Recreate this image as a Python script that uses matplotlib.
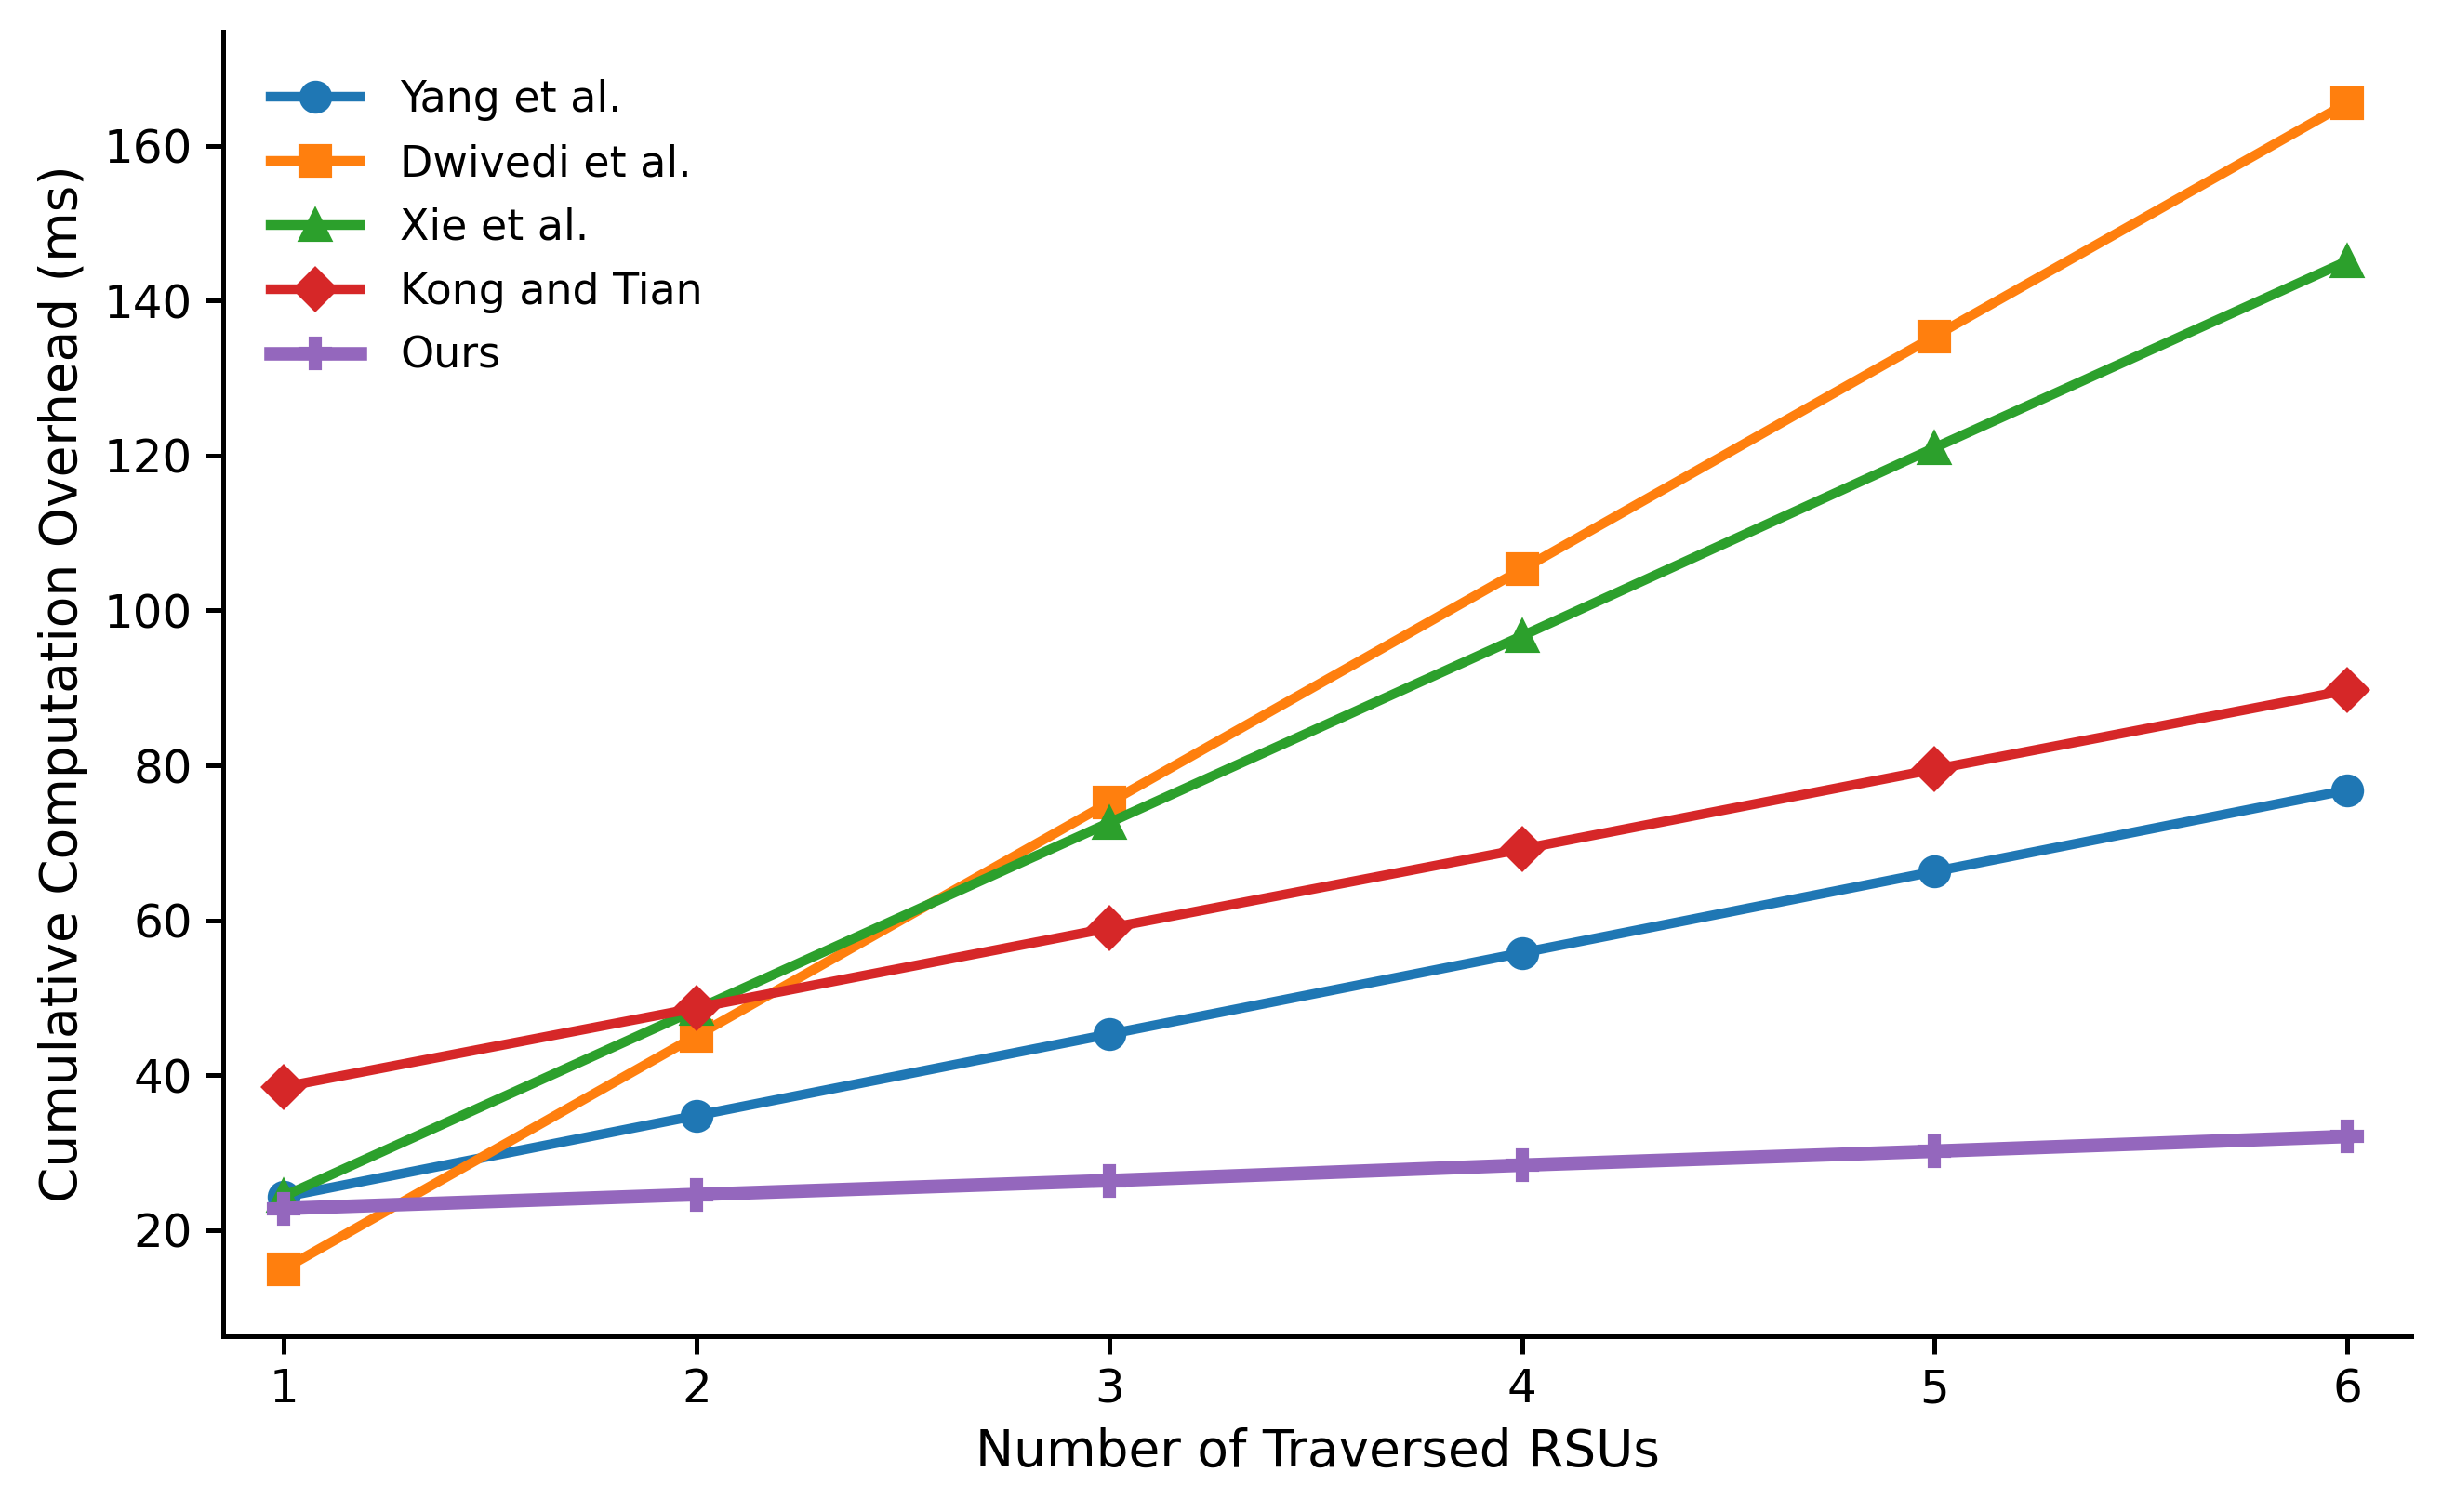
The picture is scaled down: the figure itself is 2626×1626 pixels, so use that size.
import numpy as np
import matplotlib.pyplot as plt

# number of traversed RSUs
rsus = [1, 2, 3, 4, 5, 6]

# cumulative computation overhead (ms)
yang = [24.3, 34.8, 45.3, 55.8, 66.3, 76.8]
dwivedi = [15.0, 45.1, 75.2, 105.3, 135.4, 165.5]
xie = [24.4, 48.5, 72.6, 96.7, 121.0, 145.1]
kong = [38.5, 48.7, 59.0, 69.2, 79.5, 89.7]
ours = [22.8, 24.6, 26.4, 28.4, 30.2, 32.1]

labels = ["Yang et al.", "Dwivedi et al.", "Xie et al.", "Kong and Tian", "Ours"]

plt.rcParams['font.family'] = ['DejaVu Sans']

fig, ax = plt.subplots(figsize=(2626/300, 1626/300), dpi=300)

ax.plot(rsus, yang, marker='o', lw=2.5, ms=7.5, label=labels[0], color='#1f77b4')
ax.plot(rsus, dwivedi, marker='s', lw=2.5, ms=7.5, label=labels[1], color='#ff7f0e')
ax.plot(rsus, xie, marker='^', lw=2.5, ms=7.5, label=labels[2], color='#2ca02c')
ax.plot(rsus, kong, marker='D', lw=2.5, ms=7.5, label=labels[3], color='#d62728')
ax.plot(rsus, ours, marker='P', lw=3.5, ms=7.5, label=labels[4], color='#9467bd')

ax.set_xticks(rsus)
ax.set_xlim(0.853, 6.155)
ax.set_ylim(6.3, 174.7)
ax.set_xlabel('Number of Traversed RSUs', fontsize=13.2)
ax.set_ylabel('Cumulative Computation Overhead (ms)', fontsize=13.2)
ax.tick_params(labelsize=12, length=4.5, width=1.2)
for s in ['left', 'bottom']:
    ax.spines[s].set_linewidth(1.2)
ax.spines['top'].set_visible(False)
ax.spines['right'].set_visible(False)
ax.legend(loc='upper left', bbox_to_anchor=(0.004, 0.993), frameon=False,
          fontsize=11, handlelength=2.1, handletextpad=0.95, labelspacing=0.52)

fig.subplots_adjust(left=0.0914, right=0.9874, top=0.979, bottom=0.1162)
fig.savefig('out.png', dpi=300)
